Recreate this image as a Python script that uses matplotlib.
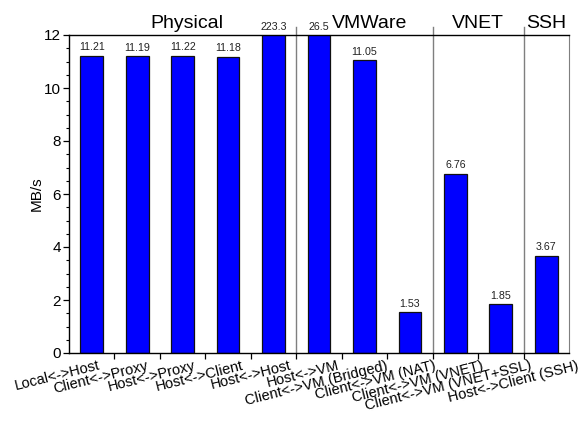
import matplotlib
matplotlib.use('Agg')
import matplotlib.pyplot as plt
import matplotlib.transforms as mtransforms
from matplotlib.ticker import MultipleLocator, FixedLocator, NullFormatter

plt.rcParams['font.family'] = ['Liberation Sans', 'DejaVu Sans']

# data
labels = ['Local<->Host', 'Client<->Proxy', 'Host<->Proxy', 'Host<->Client',
          'Host<->Host', 'Host<->VM', 'Client<->VM (Bridged)', 'Client<->VM (NAT)',
          'Client<->VM (VNET)', 'Client<->VM (VNET+SSL)', 'Host<->Client (SSH)']
values = [11.21, 11.19, 11.22, 11.18, 223.3, 26.5, 11.05, 1.53, 6.76, 1.85, 3.67]
value_text = ['11.21', '11.19', '11.22', '11.18', '223.3', '26.5', '11.05',
              '1.53', '6.76', '1.85', '3.67']
groups = ['Physical', 'VMWare', 'VNET', 'SSH']
group_sizes = [5, 3, 2, 1]

ymax = 12

fig = plt.figure(figsize=(5.82, 4.26), dpi=100)
ax = fig.add_axes([69 / 582, 1 - 353 / 426, 500 / 582, 318 / 426])

x = list(range(len(values)))
ax.bar(x, values, width=0.5, color='#0000ff', edgecolor='#111111', linewidth=0.9, zorder=2)

ax.set_xlim(-0.5, len(values) - 0.5)
ax.set_ylim(0, ymax)

# value labels, clipped bars get their label just above the frame
for xi, v, t in zip(x, values, value_text):
    ax.annotate(t, (xi, min(v, ymax)), xytext=(0, 2.5), textcoords='offset points',
                ha='center', va='bottom', fontsize=7.7, color='#222222',
                annotation_clip=False)

# group separators and titles (first two sit a little right, as in the original)
nudge = [3, 4, 0, 0]
start = 0
for i, (g, n) in enumerate(zip(groups, group_sizes)):
    center = start + (n - 1) / 2
    ax.annotate(g, (center, ymax), xytext=(nudge[i], 5), textcoords='offset points',
                ha='center', va='baseline', fontsize=14, annotation_clip=False)
    start += n
    if i < len(groups) - 1:
        ax.axvline(start - 0.5, ymin=0, ymax=1.026, color='#7f7f7f', lw=1.0,
                   clip_on=False, zorder=1)

# ticks
ax.yaxis.set_major_locator(MultipleLocator(2))
ax.yaxis.set_minor_locator(MultipleLocator(0.5))
ax.tick_params(axis='y', which='major', direction='out', length=4, width=0.9,
               labelsize=11, pad=2)
ax.tick_params(axis='y', which='minor', direction='out', length=2, width=0.8)
ax.xaxis.set_major_locator(FixedLocator([i + 0.5 for i in range(len(values) - 1)]))
ax.xaxis.set_major_formatter(NullFormatter())
ax.tick_params(axis='x', which='major', direction='out', length=4, width=0.9)
ax.tick_params(top=False, right=False)

# slanted category labels
for i, lab in enumerate(labels):
    shift = mtransforms.ScaledTranslation((6.3 + 2.45 * i) / 100, -5.5 / 100,
                                          fig.dpi_scale_trans)
    tr = mtransforms.blended_transform_factory(ax.transData, ax.transAxes) + shift
    ax.text(i, 0, lab, transform=tr, rotation=14, rotation_mode='anchor',
            ha='right', va='top', fontsize=10.5)

ax.set_ylabel('MB/s', fontsize=11)
ax.yaxis.set_label_coords(-25 / 500, 0.5)

for s in ['left', 'bottom', 'top']:
    ax.spines[s].set_linewidth(1.0)
ax.spines['right'].set_color('#7f7f7f')

fig.savefig('out.png', dpi=100)
